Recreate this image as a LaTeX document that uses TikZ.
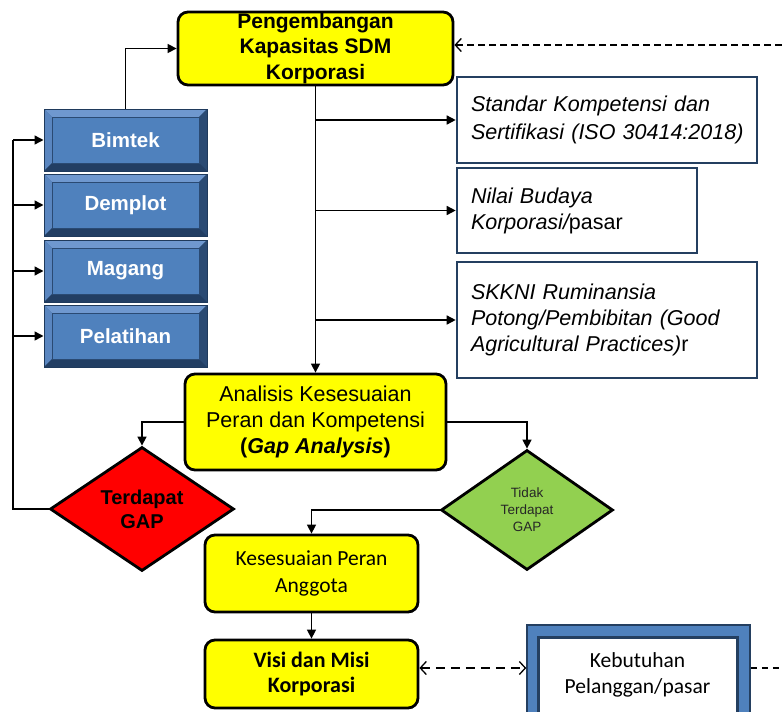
\documentclass[tikz,border=0pt]{standalone}
\usepackage{fontspec}
\setmainfont{Liberation Sans}
\newfontfamily\calib{Carlito}
\usetikzlibrary{shapes.geometric,arrows.meta,calc}
\definecolor{yel}{HTML}{FFFF00}
\definecolor{navy}{HTML}{243F60}
\definecolor{kblue}{HTML}{4F81BD}
\definecolor{bvout}{HTML}{1F3A5C}
\definecolor{bvdark}{HTML}{2D4E78}
\definecolor{bvtop}{HTML}{6F98CF}
\definecolor{bvleft}{HTML}{5A86C0}
\definecolor{bvright}{HTML}{2A4A73}
\definecolor{bvbot}{HTML}{223E63}
\definecolor{bvface}{HTML}{4F81BD}
\definecolor{gapred}{HTML}{FF0000}
\definecolor{gapgreen}{HTML}{92D050}
\newcommand\fs[2]{\fontsize{#1}{#2}\selectfont}
\tikzset{
 ybox/.style={draw=black, line width=2.8pt, fill=yel, rounded corners=10pt, inner sep=0pt, align=center},
 bevelbox/.style={minimum width=163pt, minimum height=62pt, inner sep=0pt, draw=bvout, line width=1pt,
   fill=bvdark, text=white, font=\bfseries\fs{20.5}{24},
   path picture={
     \path (path picture bounding box.north west) coordinate (bvA)
           (path picture bounding box.north east) coordinate (bvB)
           (path picture bounding box.south east) coordinate (bvC)
           (path picture bounding box.south west) coordinate (bvD);
     \path ($(bvA)+(8pt,-8pt)$) coordinate (bvE)
           ($(bvB)+(-8pt,-8pt)$) coordinate (bvF)
           ($(bvC)+(-8pt,8pt)$) coordinate (bvG)
           ($(bvD)+(8pt,8pt)$) coordinate (bvH);
     \fill[bvtop] (bvA) -- (bvB) -- (bvF) -- (bvE) -- cycle;
     \fill[bvleft] (bvA) -- (bvE) -- (bvH) -- (bvD) -- cycle;
     \fill[bvright] (bvB) -- (bvC) -- (bvG) -- (bvF) -- cycle;
     \fill[bvbot] (bvD) -- (bvH) -- (bvG) -- (bvC) -- cycle;
     \filldraw[fill=bvface, draw=bvright, line width=1pt] (bvE) rectangle (bvG);
   }},
 sbox/.style={draw=navy, line width=2.6pt, fill=white, inner xsep=14pt, inner ysep=0pt,
   align=left, font=\fs{21.5}{26}},
 dia/.style={diamond, draw=black, line width=2.8pt, inner sep=0pt, align=center},
 conn/.style={line width=1.5pt},
 arrowc/.style={conn, -{Triangle[length=9pt,width=9pt]}},
 dashc/.style={line width=1.3pt, dash pattern=on 7pt off 4pt},
 barb/.tip={Straight Barb[length=6pt,width=13pt,line width=1.3pt]},
}
\begin{document}
\begin{tikzpicture}[x=1pt,y=-1pt]
\useasboundingbox (0,0) rectangle (782,712);
\clip (0,0) rectangle (782,712);
\fill[white] (0,0) rectangle (782,712);

% nodes
\node[ybox, minimum width=275pt, minimum height=73pt, font=\bfseries\fs{21}{25.5}] (top) at (315.5,48.5)
  {Pengembangan\\Kapasitas SDM\\Korporasi};

\node[bevelbox] (bimtek) at (125.5,140) {Bimtek};
\node[bevelbox] (demplot) at (125.5,205) {Demplot};
\node[bevelbox] (magang) at (125.5,271) {Magang};
\node[bevelbox] (pelatihan) at (125.5,336) {Pelatihan};

\node[sbox, text width=272pt, minimum height=86pt, font=\fs{21.5}{28}] (s1) at (607,120)
  {\mbox{\itshape Standar Kompetensi dan}\\\mbox{\itshape Sertifikasi (ISO 30414:2018)}};
\node[sbox, text width=212pt, minimum height=85pt] (s2) at (577,210.5)
  {\mbox{\itshape Nilai Budaya}\\\mbox{\itshape Korporasi/\upshape pasar}};
\node[sbox, text width=272pt, minimum height=116pt] (s3) at (607,320)
  {\mbox{\itshape SKKNI Ruminansia}\\\mbox{\itshape Potong/Pembibitan (Good}\\\mbox{\itshape Agricultural Practices)\upshape r}};

\node[ybox, minimum width=261pt, minimum height=96pt, font=\fs{21.5}{26}] (ana) at (315.5,422)
  {Analisis Kesesuaian\\Peran dan Kompetensi\\\textbf{(\textit{Gap Analysis})}};

\node[dia, fill=gapred, minimum width=184pt, minimum height=124pt, font=\bfseries\fs{20}{24}] (red) at (142,509)
  {Terdapat\\GAP};
\node[dia, fill=gapgreen, minimum width=172pt, minimum height=120pt, font=\fs{13.5}{17}, text=black!85] (green) at (527,510)
  {Tidak\\Terdapat\\GAP};

\node[ybox, minimum width=213pt, minimum height=77pt, font=\calib\fs{21.5}{26.5}] (kes) at (311.5,573.5)
  {Kesesuaian Peran\\Anggota};
\node[ybox, minimum width=213pt, minimum height=68pt, font=\calib\bfseries\fs{22}{24.5}] (visi) at (311.5,674)
  {Visi dan Misi\\Korporasi};

\node[draw=navy, line width=1.5pt, fill=kblue, minimum width=223pt, minimum height=114pt, inner sep=0pt] (keb) at (638.5,682) {};
\node[draw=navy, line width=3pt, fill=white, minimum width=199pt, minimum height=102pt, inner sep=0pt] (kebin) at (637.5,688) {};
\node[font=\calib\fs{21.5}{26}, align=center, inner sep=0pt] (kebtxt) at (637.5,675) {Kebutuhan\\Pelanggan/pasar};

% helper coordinates
\coordinate (fb) at (13,0);
\coordinate (topr) at (782,45);
\coordinate (dl) at (0,668);
\coordinate (botr) at (782,668);

% connectors
\draw[arrowc] (bimtek.north) |- (top.west);
\draw[arrowc] (top.south) -- (ana.north);
\draw[arrowc] (top.south |- s1.west) -- (s1.west);
\draw[arrowc] (top.south |- s2.west) -- (s2.west);
\draw[arrowc] (top.south |- s3.west) -- (s3.west);

\draw[dashc, -barb] (topr) -- (topr -| top.east);

\draw[arrowc] (ana.west) -| (red.north);
\draw[arrowc] (ana.east) -| (green.north);

\draw[conn] (red.west) -- (red.west -| fb) -- (bimtek.west -| fb);
\draw[arrowc] (bimtek.west -| fb) -- (bimtek.west);
\draw[arrowc] (demplot.west -| fb) -- (demplot.west);
\draw[arrowc] (magang.west -| fb) -- (magang.west);
\draw[arrowc] (pelatihan.west -| fb) -- (pelatihan.west);

\draw[arrowc] (green.west) -| (kes.north);
\draw[arrowc] (kes.south) -- (visi.north);

\draw[line width=1.3pt, dash pattern=on 9pt off 6pt, barb-barb] (visi.east |- dl) -- (keb.west |- dl);
\draw[line width=1.3pt, dash pattern=on 6pt off 5pt] (keb.east |- botr) -- (botr);
\end{tikzpicture}
\end{document}
